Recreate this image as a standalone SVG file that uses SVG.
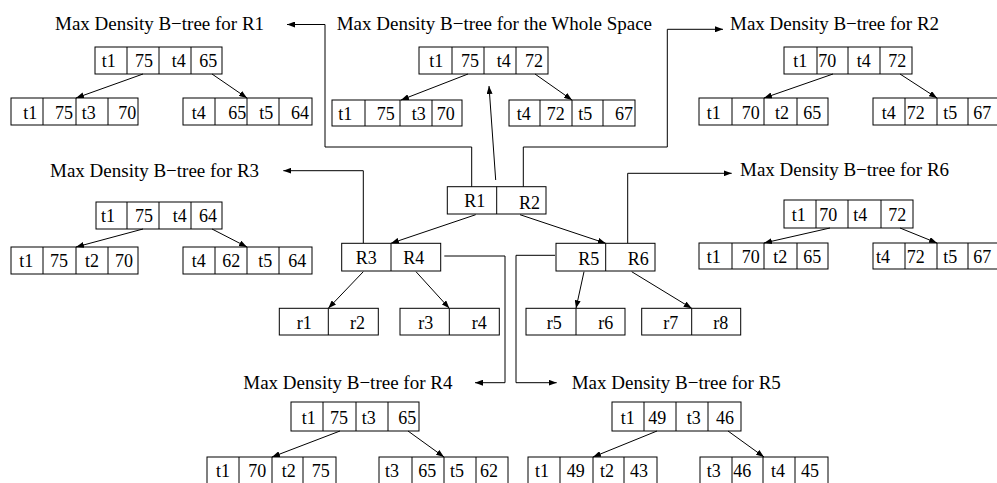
<svg xmlns="http://www.w3.org/2000/svg" width="997" height="483" viewBox="0 0 997 483">
<style>
.bx{fill:#fff;stroke:#000;stroke-width:1}
.dv{stroke:#000;stroke-width:1}
.ln{fill:none;stroke:#000;stroke-width:1}
text{font-family:"Liberation Serif","Times New Roman",serif;font-size:18px;fill:#000}
.ti{font-size:19px}
</style>
<defs>
<marker id="ah" markerUnits="userSpaceOnUse" markerWidth="9" markerHeight="6" refX="8" refY="3" orient="auto">
<path d="M0,0 L8,3 L0,6 z" fill="#000"/>
</marker>
</defs>
<rect width="997" height="483" fill="#fff"/>

<g id="connectors">
<polyline class="ln" points="471.7,187 471.7,147 325,147 325,24.5 287,24.5" marker-end="url(#ah)"/>
<polyline class="ln" points="523.3,187 523.3,147 667.3,147 667.3,29.3 723,29.3" marker-end="url(#ah)"/>
<line class="ln" x1="495.7" y1="180" x2="489" y2="86" marker-end="url(#ah)"/>
<polyline class="ln" points="363.3,243.3 363.3,170.7 283.3,170.7" marker-end="url(#ah)"/>
<polyline class="ln" points="627.7,243.3 627.7,173.3 731.7,173.3" marker-end="url(#ah)"/>
<polyline class="ln" points="444.3,256 505,256 505,382.7 475,382.7" marker-end="url(#ah)"/>
<polyline class="ln" points="555,255.3 516,255.3 516,382.7 556.7,382.7" marker-end="url(#ah)"/>
<line class="ln" x1="475.7" y1="214.7" x2="391" y2="243.3" marker-end="url(#ah)"/>
<line class="ln" x1="520" y1="214.7" x2="605.7" y2="243.3" marker-end="url(#ah)"/>
<line class="ln" x1="363.3" y1="271.7" x2="328.3" y2="308.3" marker-end="url(#ah)"/>
<line class="ln" x1="416" y1="271.7" x2="449.3" y2="308.3" marker-end="url(#ah)"/>
<line class="ln" x1="584" y1="271.7" x2="576" y2="308.3" marker-end="url(#ah)"/>
<line class="ln" x1="631.7" y1="271.7" x2="691.7" y2="308.3" marker-end="url(#ah)"/>
</g>

<g id="rtree">
<g id="node-R1R2">
<rect class="bx" x="447.3" y="186.7" width="98.7" height="27.3"/>
<line class="dv" x1="496.7" y1="186.7" x2="496.7" y2="214"/>
<text x="464.3" y="206.7">R1</text><text x="519" y="209.3">R2</text>
</g>
<g id="node-R3R4">
<rect class="bx" x="341.7" y="243.3" width="99" height="27.7"/>
<line class="dv" x1="391" y1="243.3" x2="391" y2="271"/>
<text x="355.7" y="264">R3</text><text x="403.3" y="264">R4</text>
</g>
<g id="node-R5R6">
<rect class="bx" x="556" y="243.3" width="99" height="27.7"/>
<line class="dv" x1="605.7" y1="243.3" x2="605.7" y2="271"/>
<text x="578.3" y="265">R5</text><text x="627.7" y="265">R6</text>
</g>
<g id="node-r1r2">
<rect class="bx" x="279.3" y="308.3" width="99" height="26.7"/>
<line class="dv" x1="328.3" y1="308.3" x2="328.3" y2="335"/>
<text x="296.7" y="329.3">r1</text><text x="350" y="329.3">r2</text>
</g>
<g id="node-r3r4">
<rect class="bx" x="400" y="308.3" width="99.3" height="26.7"/>
<line class="dv" x1="449.3" y1="308.3" x2="449.3" y2="335"/>
<text x="418.3" y="329.3">r3</text><text x="471.7" y="329.3">r4</text>
</g>
<g id="node-r5r6">
<rect class="bx" x="526" y="308.3" width="99" height="26.7"/>
<line class="dv" x1="576" y1="308.3" x2="576" y2="335"/>
<text x="546.7" y="329.3">r5</text><text x="598.3" y="329.3">r6</text>
</g>
<g id="node-r7r8">
<rect class="bx" x="641.7" y="308.3" width="99" height="26.7"/>
<line class="dv" x1="691.7" y1="308.3" x2="691.7" y2="335"/>
<text x="663.3" y="329.3">r7</text><text x="713.3" y="329.3">r8</text>
</g>
</g>

<g id="tree-R1">
<text class="ti" x="55" y="30">Max Density B−tree for R1</text>
<rect class="bx" x="95" y="47" width="127" height="27"/>
<path class="dv" d="M127,47V74M159,47V74M191,47V74"/>
<text x="101.7" y="67">t1</text><text x="135" y="67">75</text><text x="171.7" y="67">t4</text><text x="199.3" y="67">65</text>
<rect class="bx" x="11" y="98" width="127" height="27"/>
<path class="dv" d="M43,98V125M76,98V125M108,98V125"/>
<text x="23.3" y="119">t1</text><text x="55" y="119">75</text><text x="81.7" y="119">t3</text><text x="118.3" y="119">70</text>
<rect class="bx" x="183" y="98" width="129" height="27"/>
<path class="dv" d="M215,98V125M247,98V125M279,98V125"/>
<text x="191.7" y="119">t4</text><text x="228.3" y="119">65</text><text x="259.3" y="119">t5</text><text x="291" y="119">64</text>
<line class="ln" x1="143" y1="74" x2="76" y2="98" marker-end="url(#ah)"/>
<line class="ln" x1="212" y1="74" x2="247" y2="98" marker-end="url(#ah)"/>
</g>

<g id="tree-whole">
<text class="ti" x="336.7" y="30">Max Density B−tree for the Whole Space</text>
<rect class="bx" x="419" y="47" width="129" height="27"/>
<path class="dv" d="M452,47V74M484,47V74M516,47V74"/>
<text x="429.3" y="67">t1</text><text x="461" y="67">75</text><text x="496.7" y="67">t4</text><text x="525" y="67">72</text>
<rect class="bx" x="332" y="100" width="130" height="26"/>
<path class="dv" d="M365,100V126M400,100V126M432,100V126"/>
<text x="338.3" y="120">t1</text><text x="376.7" y="120">75</text><text x="411.7" y="120">t3</text><text x="436.7" y="120">70</text>
<rect class="bx" x="509" y="100" width="126" height="26"/>
<path class="dv" d="M540,100V126M572,100V126M603,100V126"/>
<text x="516.7" y="120">t4</text><text x="546.7" y="120">72</text><text x="578.3" y="120">t5</text><text x="615" y="120">67</text>
<line class="ln" x1="468" y1="74" x2="401" y2="100" marker-end="url(#ah)"/>
<line class="ln" x1="535" y1="74" x2="572" y2="100" marker-end="url(#ah)"/>
</g>

<g id="tree-R2">
<text class="ti" x="730" y="30">Max Density B−tree for R2</text>
<rect class="bx" x="784" y="47" width="128" height="27"/>
<path class="dv" d="M817,47V74M848,47V74M880,47V74"/>
<text x="793.3" y="67">t1</text><text x="818.3" y="67">70</text><text x="856.7" y="67">t4</text><text x="888.3" y="67">72</text>
<rect class="bx" x="699" y="98" width="129" height="27"/>
<path class="dv" d="M732,98V125M764,98V125M797,98V125"/>
<text x="706.7" y="119">t1</text><text x="741.7" y="119">70</text><text x="775" y="119">t2</text><text x="803.3" y="119">65</text>
<rect class="bx" x="873" y="98" width="128" height="27"/>
<path class="dv" d="M905,98V125M937,98V125M968,98V125"/>
<text x="881.7" y="119">t4</text><text x="906.7" y="119">72</text><text x="943.3" y="119">t5</text><text x="973.3" y="119">67</text>
<line class="ln" x1="833" y1="74" x2="764" y2="98" marker-end="url(#ah)"/>
<line class="ln" x1="900" y1="74" x2="937" y2="98" marker-end="url(#ah)"/>
</g>

<g id="tree-R3">
<text class="ti" x="50" y="177">Max Density B−tree for R3</text>
<rect class="bx" x="96" y="202" width="126" height="27"/>
<path class="dv" d="M127,202V229M159,202V229M191,202V229"/>
<text x="101" y="222">t1</text><text x="135" y="222">75</text><text x="172.7" y="222">t4</text><text x="199" y="222">64</text>
<rect class="bx" x="11" y="247" width="127" height="27"/>
<path class="dv" d="M43,247V274M76,247V274M108,247V274"/>
<text x="19.3" y="267">t1</text><text x="50" y="267">75</text><text x="85" y="267">t2</text><text x="115" y="267">70</text>
<rect class="bx" x="183" y="247" width="129" height="27"/>
<path class="dv" d="M215,247V274M247,247V274M279,247V274"/>
<text x="191.7" y="267">t4</text><text x="222.3" y="267">62</text><text x="258.3" y="267">t5</text><text x="288.3" y="267">64</text>
<line class="ln" x1="143" y1="229" x2="76" y2="247" marker-end="url(#ah)"/>
<line class="ln" x1="212" y1="229" x2="247" y2="247" marker-end="url(#ah)"/>
</g>

<g id="tree-R6">
<text class="ti" x="740" y="176">Max Density B−tree for R6</text>
<rect class="bx" x="784" y="200" width="129" height="28"/>
<path class="dv" d="M816,200V228M848,200V228M881,200V228"/>
<text x="791.7" y="221">t1</text><text x="819.3" y="221">70</text><text x="853.3" y="221">t4</text><text x="888.3" y="221">72</text>
<rect class="bx" x="699" y="243" width="129" height="26"/>
<path class="dv" d="M732,243V269M764,243V269M797,243V269"/>
<text x="706.7" y="263">t1</text><text x="741.7" y="263">70</text><text x="773.3" y="263">t2</text><text x="803.3" y="263">65</text>
<rect class="bx" x="873" y="243" width="128" height="26"/>
<path class="dv" d="M905,243V269M937,243V269M968,243V269"/>
<text x="876" y="263">t4</text><text x="906.7" y="263">72</text><text x="943.3" y="263">t5</text><text x="973.3" y="263">67</text>
<line class="ln" x1="830" y1="228" x2="764" y2="243" marker-end="url(#ah)"/>
<line class="ln" x1="900" y1="228" x2="937" y2="243" marker-end="url(#ah)"/>
</g>

<g id="tree-R4">
<text class="ti" x="243.3" y="389">Max Density B−tree for R4</text>
<rect class="bx" x="291" y="402" width="128" height="29"/>
<path class="dv" d="M323,402V431M356,402V431M388,402V431"/>
<text x="301.7" y="424">t1</text><text x="330" y="424">75</text><text x="361.7" y="424">t3</text><text x="398.3" y="424">65</text>
<rect class="bx" x="207" y="457" width="129" height="28"/>
<path class="dv" d="M239,457V485M272,457V485M303,457V485"/>
<text x="216" y="477">t1</text><text x="248.3" y="477">70</text><text x="281.7" y="477">t2</text><text x="311.7" y="477">75</text>
<rect class="bx" x="379" y="457" width="129" height="28"/>
<path class="dv" d="M412,457V485M444,457V485M476,457V485"/>
<text x="385" y="477">t3</text><text x="418.3" y="477">65</text><text x="450" y="477">t5</text><text x="480" y="477">62</text>
<line class="ln" x1="340" y1="431" x2="272" y2="457" marker-end="url(#ah)"/>
<line class="ln" x1="408" y1="431" x2="444" y2="457" marker-end="url(#ah)"/>
</g>

<g id="tree-R5">
<text class="ti" x="571.7" y="389">Max Density B−tree for R5</text>
<rect class="bx" x="612" y="402" width="129" height="29"/>
<path class="dv" d="M644,402V431M676,402V431M708,402V431"/>
<text x="620.7" y="424">t1</text><text x="648.3" y="424">49</text><text x="686.7" y="424">t3</text><text x="716" y="424">46</text>
<rect class="bx" x="528" y="457" width="129" height="28"/>
<path class="dv" d="M560,457V485M593,457V485M624,457V485"/>
<text x="535" y="477">t1</text><text x="566.7" y="477">49</text><text x="600" y="477">t2</text><text x="630" y="477">43</text>
<rect class="bx" x="700" y="457" width="128" height="28"/>
<path class="dv" d="M732,457V485M763,457V485M795,457V485"/>
<text x="706.7" y="477">t3</text><text x="733.3" y="477">46</text><text x="771" y="477">t4</text><text x="801" y="477">45</text>
<line class="ln" x1="657" y1="431" x2="593" y2="457" marker-end="url(#ah)"/>
<line class="ln" x1="728" y1="431" x2="764" y2="457" marker-end="url(#ah)"/>
</g>
</svg>
